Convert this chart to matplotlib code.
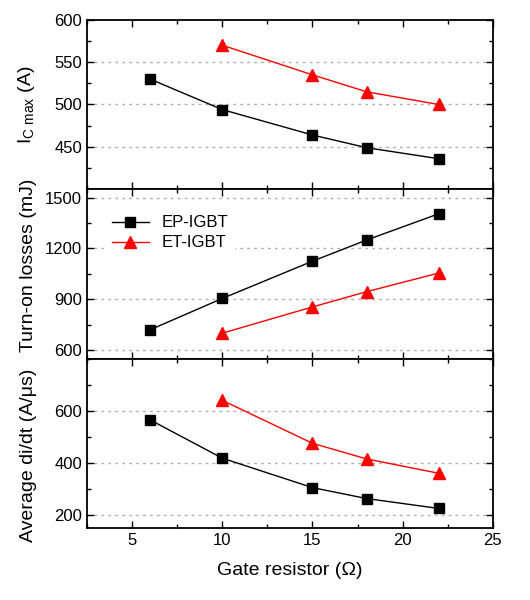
import matplotlib
matplotlib.use('Agg')
import matplotlib.pyplot as plt
from matplotlib.ticker import MultipleLocator

plt.rcParams['font.family'] = ['Liberation Sans', 'DejaVu Sans']
plt.rcParams['mathtext.fontset'] = 'custom'
plt.rcParams['mathtext.rm'] = 'Liberation Sans'

# 数据
gate_ep = [6, 10, 15, 18, 22]
gate_et = [10, 15, 18, 22]

ic_ep = [530, 494, 464, 449, 436]
ic_et = [570, 535, 515, 500]

eon_ep = [720, 905, 1125, 1250, 1405]
eon_et = [700, 855, 945, 1055]

didt_ep = [565, 418, 305, 263, 225]
didt_et = [640, 475, 415, 360]

fig, axes = plt.subplots(3, 1, sharex=True, figsize=(5.3, 6), dpi=100)
fig.subplots_adjust(left=0.164, right=0.930, top=0.967, bottom=0.12, hspace=0)

panels = [
    (ic_ep, ic_et, (400, 600), [450, 500, 550, 600], 25, r'I$_\mathregular{C\ max}$ (A)', 0.5),
    (eon_ep, eon_et, (550, 1550), [600, 900, 1200, 1500], 150, 'Turn-on losses (mJ)', 0.55),
    (didt_ep, didt_et, (150, 800), [200, 400, 600], 100, 'Average di/dt (A/\u03bcs)', 0.43),
]

for ax, (ep, et, ylim, yticks, yminor, ylabel, lab_y) in zip(axes, panels):
    ax.plot(gate_ep, ep, color='black', lw=1, marker='s', ms=6.5, label='EP-IGBT', zorder=3)
    ax.plot(gate_et, et, color='red', lw=1, marker='^', ms=8, label='ET-IGBT', zorder=3)
    ax.set_ylim(*ylim)
    ax.set_yticks(yticks)
    ax.yaxis.set_minor_locator(MultipleLocator(yminor))
    for y in yticks:
        if ylim[0] < y < ylim[1]:
            ax.axhline(y, color='#b0b0b0', lw=1, ls=(0, (2, 3)), zorder=1)
    ax.set_ylabel(ylabel, fontsize=14)
    ax.yaxis.set_label_coords(-0.123, lab_y)
    ax.tick_params(which='both', direction='in', top=True, right=True, labelsize=12)
    ax.tick_params(which='major', length=5, width=1)
    ax.tick_params(which='minor', length=3, width=1)
    for s in ax.spines.values():
        s.set_linewidth(1.3)

axes[0].set_xlim(2.5, 25)
axes[2].set_xticks([5, 10, 15, 20, 25])
axes[2].xaxis.set_minor_locator(MultipleLocator(2.5))
axes[2].set_xlabel('Gate resistor (\u03a9)', fontsize=14, labelpad=10)

leg = axes[1].legend(loc='upper left', bbox_to_anchor=(0.045, 0.885), frameon=True,
                     fontsize=12, handlelength=2.2, borderaxespad=0, labelspacing=0.3)
leg.get_frame().set_edgecolor('none')
leg.get_frame().set_facecolor('white')
leg.get_frame().set_alpha(1)
leg.set_zorder(5)

fig.savefig('out.png', dpi=100)
